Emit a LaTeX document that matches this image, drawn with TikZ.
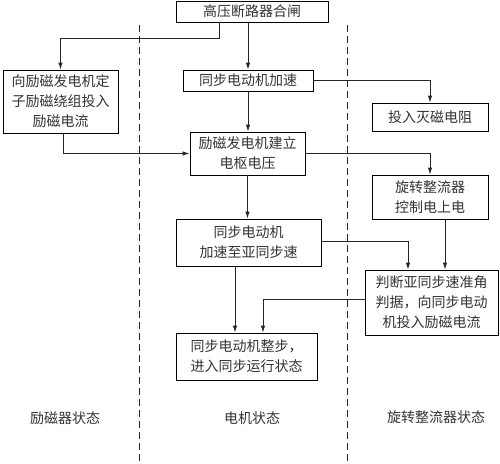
\documentclass[tikz,border=0pt]{standalone}
\usepackage{fontspec}
\newfontfamily\cjk{Noto Sans CJK SC}
\usetikzlibrary{arrows.meta,calc}
\definecolor{txt}{HTML}{333333}
\begin{document}
\begin{tikzpicture}[x=1pt,y=-1pt,
  box/.style={draw=black,line width=0.9pt,inner sep=0pt,align=center,text=txt,
    font=\cjk\fontsize{14}{20}\selectfont},
  lbl/.style={inner sep=0pt,text=txt,font=\cjk\fontsize{14}{20}\selectfont},
  arr/.style={draw=black!85,line width=0.9pt,-{Latex[length=7pt,width=4.5pt]}},
  sep/.style={draw=black!85,line width=1pt,dash pattern=on 7pt off 4pt}]
\useasboundingbox (0,0) rectangle (500,463);
\fill[white] (0,0) rectangle (500,463);
% column separators
\draw[sep] (139,25) -- (139,462);
\draw[sep] (347,25) -- (347,462);
% boxes
\node[box,minimum width=152pt,minimum height=21pt] (top) at (252,11.5) {高压断路器合闸};
\node[box,minimum width=115pt,minimum height=63pt] (left) at (60.5,101.5) {向励磁发电机定\\子励磁绕组投入\\励磁电流};
\node[box,minimum width=130pt,minimum height=21pt] (acc) at (248,80.5) {同步电动机加速};
\node[box,minimum width=116pt,minimum height=28pt] (mie) at (430,117) {投入灭磁电阻};
\node[box,minimum width=115pt,minimum height=43pt] (lici) at (247.5,153.5) {励磁发电机建立\\电枢电压};
\node[box,minimum width=116pt,minimum height=44pt] (xuan) at (430,197) {旋转整流器\\控制电上电};
\node[box,minimum width=145pt,minimum height=47pt] (yasy) at (248.5,242.5) {同步电动机\\加速至亚同步速};
\node[box,minimum width=133pt,minimum height=65pt] (pan) at (431.5,302.5) {判断亚同步速准角\\判据，向同步电动\\机投入励磁电流};
\node[box,minimum width=141pt,minimum height=47pt] (zheng) at (246.5,356.5) {同步电动机整步，\\进入同步运行状态};
% column labels
\node[lbl] (l1) at (65,418) {励磁器状态};
\node[lbl] (l2) at (252,418) {电机状态};
\node[lbl] (l3) at (436,417) {旋转整流器状态};
% connectors
\draw[arr] ([xshift=-33pt]top.south) -- ++(0,16) -| (left.north);
\draw[arr] (top.south -| acc.north) -- (acc.north);
\draw[arr] (acc.east) -| (mie.north);
\draw[arr] (acc.south) -- (acc.south |- lici.north);
\draw[arr] ([xshift=2.5pt]left.south) |- (lici.west);
\draw[arr] (lici.east) -| (xuan.north);
\draw[arr] (lici.south) -- (lici.south |- yasy.north);
\draw[arr] ([yshift=1.5pt]yasy.east) -| ([xshift=-23.5pt]pan.north);
\draw[arr] ([xshift=15pt]xuan.south) -- ([xshift=15pt]xuan.south |- pan.north);
\draw[arr] ([xshift=-13.5pt]yasy.south) -- ([xshift=-13.5pt]yasy.south |- zheng.north);
\draw[arr] ([yshift=3.5pt]pan.west) -| ([xshift=16.5pt]zheng.north);
\end{tikzpicture}
\end{document}
